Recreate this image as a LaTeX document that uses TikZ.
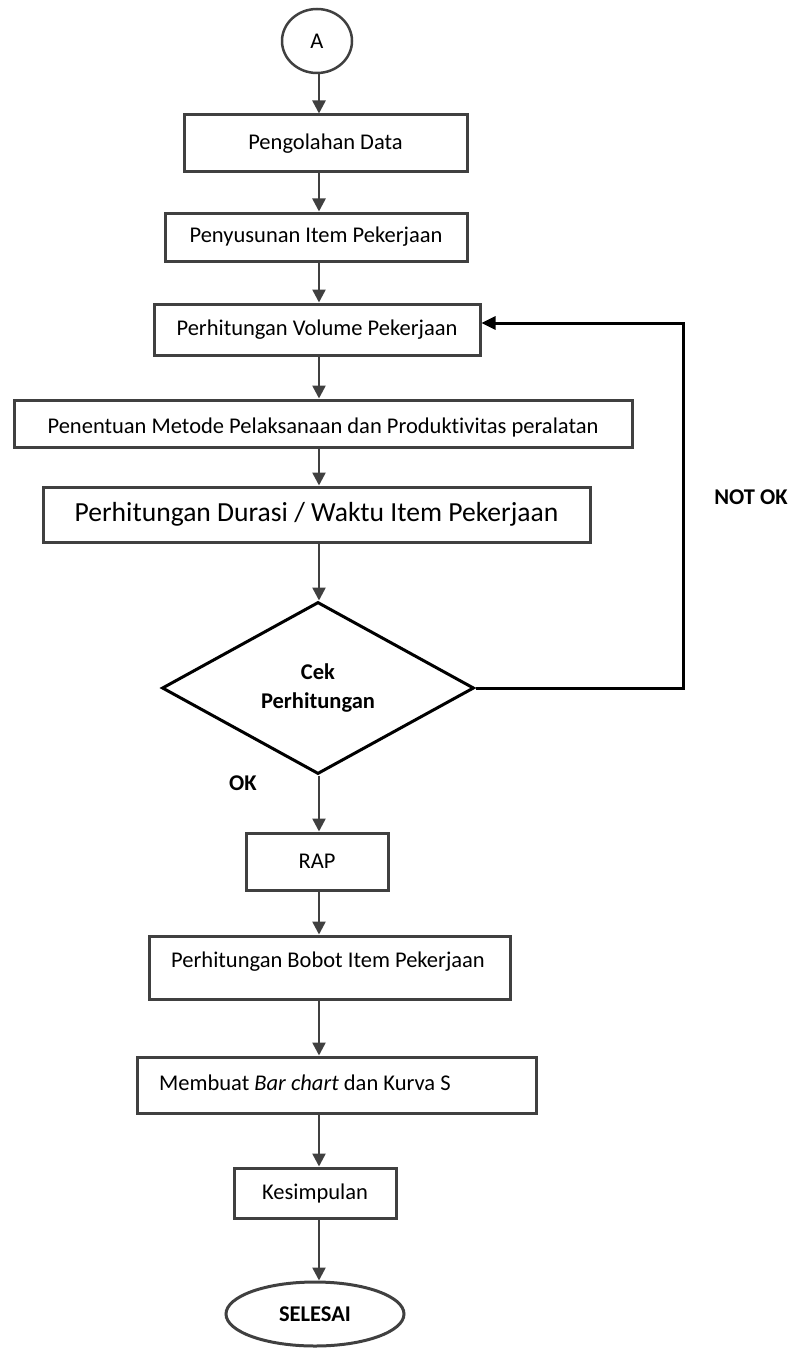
\documentclass[tikz,border=0pt]{standalone}
\usepackage{fontspec}
\setmainfont{Carlito}[Ligatures=NoCommon]
\usetikzlibrary{shapes.geometric,arrows.meta}
\definecolor{boxgray}{HTML}{404040}
\begin{document}
\begin{tikzpicture}[x=1pt,y=-1pt,
  box/.style={draw=boxgray,line width=3pt,rectangle,inner sep=0pt,font=\fontsize{22.5}{27}\selectfont},
  txt/.style={inner sep=0pt,font=\fontsize{22.5}{27}\selectfont},
  lbl/.style={inner sep=0pt,font=\fontsize{22.5}{27}\selectfont\bfseries},
  oval/.style={draw=boxgray,line width=2.5pt,ellipse,inner sep=0pt,font=\fontsize{22.5}{27}\selectfont},
  dia/.style={draw=black,line width=3pt,diamond,inner sep=0pt,align=center,font=\fontsize{22.5}{29}\selectfont\bfseries},
  arr/.style={draw=boxgray,line width=2.5pt,-{Triangle[width=13pt,length=13pt]}},
  loopl/.style={draw=black,line width=3pt,-{Triangle[width=13pt,length=14pt]}}]
\useasboundingbox (0,0) rectangle (796,1351);
\coordinate (ax) at (319,0);
\coordinate (lp) at (683,0);
\node[oval,minimum width=70pt,minimum height=64pt] (A) at (317,41) {A};
\node[box,minimum width=283pt,minimum height=57pt] (b1) at (325.5,143.5) {Pengolahan Data};
\node[box,minimum width=302pt,minimum height=48pt] (b2) at (316,237) {Penyusunan Item Pekerjaan};
\node[box,minimum width=326pt,minimum height=51pt] (b3) at (317,329.5) {Perhitungan Volume Pekerjaan};
\node[box,minimum width=618pt,minimum height=47pt] (b4) at (323,423.5) {};
\begin{scope}
\clip (14,400) rectangle (632,436);
\node[txt,anchor=base] (t4) at (323,433) {Penentuan Metode Pelaksanaan dan Produktivitas peralatan};
\end{scope}
\node[box,minimum width=547pt,minimum height=55pt,font=\fontsize{27.6}{33}\selectfont] (b5) at (316.5,514.5) {Perhitungan Durasi / Waktu Item Pekerjaan};
\node[dia,minimum width=312pt,minimum height=172pt] (d) at (318,688) {Cek\\Perhitungan};
\node[box,minimum width=142pt,minimum height=57pt] (rap) at (317,861.5) {RAP};
\node[box,minimum width=361pt,minimum height=63pt] (b6) at (329.5,967.5) {};
\node[txt] (t6) at (328,962) {Perhitungan Bobot Item Pekerjaan};
\node[box,minimum width=399pt,minimum height=56pt] (b7) at (336.5,1085) {};
\node[txt,anchor=west] (t7) at (159,1083) {Membuat \textit{Bar chart} dan Kurva S};
\node[box,minimum width=162pt,minimum height=50pt] (b8) at (315,1193) {Kesimpulan};
\node[oval,line width=3pt,minimum width=178pt,minimum height=64pt,font=\fontsize{22.5}{27}\selectfont\bfseries] (fin) at (315,1314) {SELESAI};
\node[lbl] (nok) at (751,497) {NOT OK};
\node[lbl] (ok) at (243,783) {OK};
\draw[arr] (A.south -| ax) -- (b1.north -| ax);
\draw[arr] (b1.south -| ax) -- (b2.north -| ax);
\draw[arr] (b2.south -| ax) -- (b3.north -| ax);
\draw[arr] (b3.south -| ax) -- (b4.north -| ax);
\draw[arr] (b4.south -| ax) -- (b5.north -| ax);
\draw[arr] (b5.south -| ax) -- (d.north -| ax);
\draw[arr] (d.south -| ax) -- (rap.north -| ax);
\draw[arr] (rap.south -| ax) -- (b6.north -| ax);
\draw[arr] (b6.south -| ax) -- (b7.north -| ax);
\draw[arr] (b7.south -| ax) -- (b8.north -| ax);
\draw[arr] (b8.south -| ax) -- (fin.north -| ax);
\coordinate (in3) at ([yshift=6.5pt]b3.east);
\draw[loopl] (d.east) -- (d.east -| lp) -- (in3 -| lp) -- (in3);
\end{tikzpicture}
\end{document}
